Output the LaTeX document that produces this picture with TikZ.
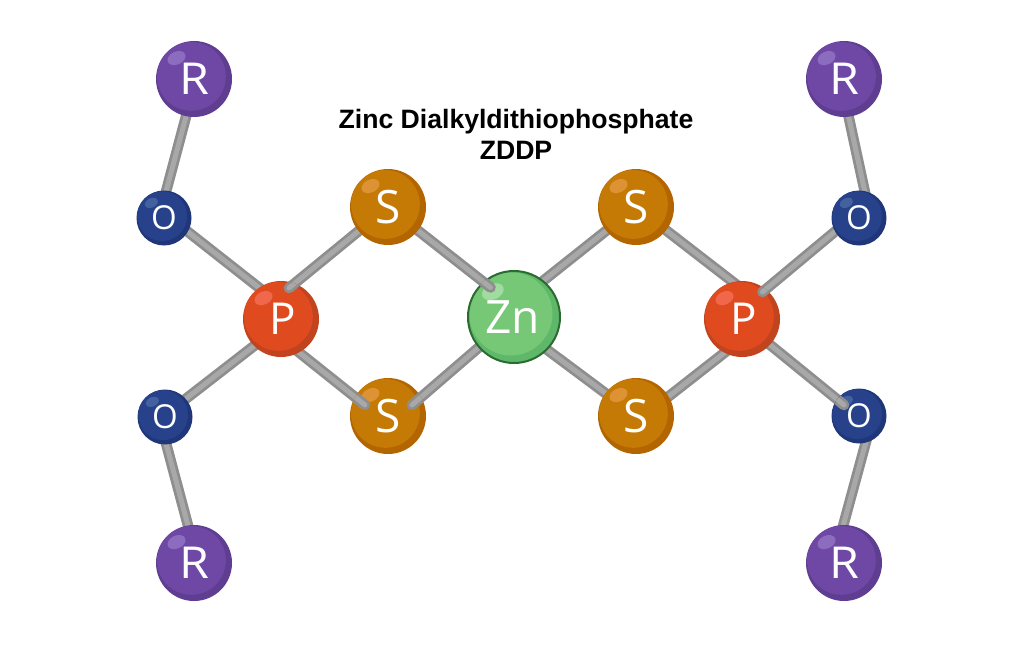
\documentclass[tikz,border=0pt]{standalone}
\usepackage{fontspec}
\setmainfont{Open Sans}
\newfontfamily\titlefont{Liberation Sans}
\newfontfamily\rfont[FakeStretch=1.1]{Open Sans}
\usetikzlibrary{calc,backgrounds}
\definecolor{bondEdge}{HTML}{8E8E8E}
\definecolor{bondCore}{HTML}{A8A8A8}
\definecolor{rMain}{HTML}{6F48A6}\definecolor{rDark}{HTML}{5F3E92}\definecolor{rHi}{HTML}{8C6CBE}
\definecolor{oMain}{HTML}{27428A}\definecolor{oDark}{HTML}{1F3778}\definecolor{oHi}{HTML}{44619F}
\definecolor{pMain}{HTML}{E04A1F}\definecolor{pDark}{HTML}{C2441F}\definecolor{pHi}{HTML}{F0674C}
\definecolor{sMain}{HTML}{C47A05}\definecolor{sDark}{HTML}{B36500}\definecolor{sHi}{HTML}{DD9233}
\definecolor{zMain}{HTML}{76C776}\definecolor{zDark}{HTML}{5FB86A}\definecolor{zHi}{HTML}{A0DBA0}\definecolor{zEdge}{HTML}{2A6B30}
\tikzset{
  x=1pt,y=-1pt,
  bond/.style={line cap=round,draw=bondEdge,line width=2.8pt,double=bondCore,double distance=5pt},
  atom/.style n args={5}{circle,inner sep=0pt,minimum size=#1pt*2,text=white,font=\fontsize{#5}{#5}\selectfont,
    fill=#3,path picture={
      \fill[#2] ($(path picture bounding box.center)+(-#1*0.068,-#1*0.068)$) circle[radius=#1*0.905];
      \fill[#4] ($(path picture bounding box.center)+(-#1*0.46,-#1*0.55)$)
        ellipse[x radius=#1*0.25,y radius=#1*0.17,rotate=25];
    }},
  atomR/.style={atom={38}{rMain}{rDark}{rHi}{44}},
  atomO/.style={atom={27.5}{oMain}{oDark}{oHi}{33}},
  atomP/.style={atom={38}{pMain}{pDark}{pHi}{44}},
  atomS/.style={atom={38}{sMain}{sDark}{sHi}{46}},
  atomZn/.style={atom={46}{zMain}{zDark}{zHi}{46},draw=zEdge,line width=2pt},
  title/.style={font=\titlefont\bfseries\fontsize{26.6}{31}\selectfont,align=center,text=black}
}
\begin{document}
\begin{tikzpicture}
\useasboundingbox (0,0) rectangle (1024,647);
\node[title] (T) at (516,134) {Zinc Dialkyldithiophosphate\\ZDDP};
\node[atomR] (R1) at (194,79) {\rfont R};
\node[atomO] (O1) at (164,218) {O};
\node[atomP] (P1) at (281,319) {\hspace*{4pt}P};
\node[atomO] (O2) at (165,417) {O};
\node[atomR] (R2) at (194,563) {\rfont R};
\node[atomS] (S1) at (388,207) {S};
\node[atomS] (S2) at (388,416) {S};
\node[atomZn] (Zn) at (514,317) {Zn\hspace*{3pt}};
\node[atomS] (S3) at (636,207) {S};
\node[atomS] (S4) at (636,416) {S};
\node[atomP] (P2) at (742,319) {\hspace*{4pt}P};
\node[atomO] (O3) at (859,218) {O};
\node[atomO] (O4) at (859,416) {O};
\node[atomR] (R3) at (844,79) {\rfont R};
\node[atomR] (R4) at (844,563) {\rfont R};
\coordinate (e1) at (289,288);
\coordinate (e2) at (490.5,287.5);
\coordinate (e3) at (365,405);
\coordinate (e4) at (412,405);
\coordinate (e5) at (762.5,292);
\coordinate (e6) at (844,405);
% the ends of some bonds lie in front of the atom they enter
\begin{scope}\clip (P1.center) circle[radius=38];\draw[bond] (S1.center) -- (e1);\end{scope}
\begin{scope}\clip (Zn.center) circle[radius=47];\draw[bond] (S1.center) -- (e2);\end{scope}
\begin{scope}\clip (S2.center) circle[radius=38];\draw[bond] ($(P1)+(0,19)$) -- (e3);\end{scope}
\begin{scope}\clip (S2.center) circle[radius=38];\draw[bond] (Zn.center) -- (e4);\end{scope}
\begin{scope}\clip (P2.center) circle[radius=38];\draw[bond] ($(O3)+(0,-6.5)$) -- (e5);\end{scope}
\begin{scope}\clip (O4.center) circle[radius=27.5];\draw[bond] ($(P2)+(0,3)$) -- (e6);\end{scope}
% bonds behind the atoms
\begin{scope}[on background layer]
\draw[bond] ($(R1)+(2,0)$) -- ($(O1)+(-5,0)$);
\draw[bond] ($(O1)+(0,-5)$) -- ($(P1)+(0,-14)$);
\draw[bond] ($(P1)+(0,6)$) -- ($(O2)+(0,-2)$);
\draw[bond] ($(O2)+(-6,0)$) -- ($(R2)+(4,0)$);
\draw[bond] (S1.center) -- (e1);
\draw[bond] (S1.center) -- (e2);
\draw[bond] ($(P1)+(0,19)$) -- (e3);
\draw[bond] (Zn.center) -- (e4);
\draw[bond] ($(Zn)+(0,-13)$) -- (S3.center);
\draw[bond] ($(Zn)+(0,8)$) -- (S4.center);
\draw[bond] (S3.center) -- ($(P2)+(0,-30)$);
\draw[bond] ($(P2)+(0,20)$) -- ($(S4)+(0,6)$);
\draw[bond] ($(O3)+(0,-6.5)$) -- (e5);
\draw[bond] ($(P2)+(0,3)$) -- (e6);
\draw[bond] ($(R3)+(-3.5,0)$) -- ($(O3)+(11.5,0)$);
\draw[bond] ($(O4)+(14,0)$) -- ($(R4)+(-11,0)$);
\end{scope}
\end{tikzpicture}
\end{document}
